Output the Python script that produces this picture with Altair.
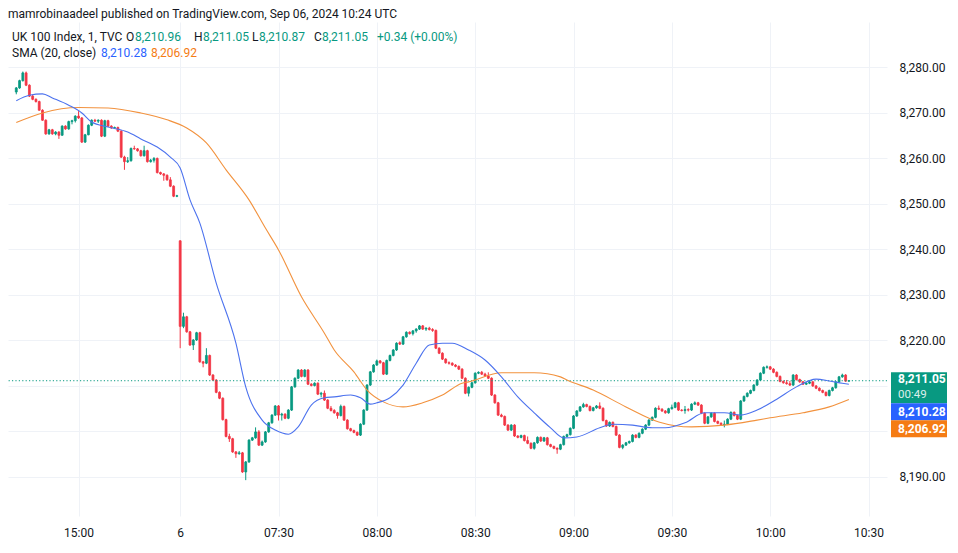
import altair as alt
import pandas as pd

FONT = "Roboto"
TEXT = "#131722"
UP = "#089981"
DOWN = "#F23645"
BLUE_LINE = "#4C72EE"
ORANGE_LINE = "#F2923E"
BLUE_BOX = "#2962FF"
ORANGE_BOX = "#F57C14"
GRID = "#EFF2F7"

HEADER = "mamrobinaadeel published on TradingView.com, Sep 06, 2024 10:24 UTC"
TICK_BARS = [19, 50, 80, 110, 140, 170, 200, 230, 260]
TICK_LABELS = ["15:00", "6", "07:30", "08:00", "08:30", "09:00", "09:30", "10:00", "10:30"]
PRICE_TICKS = [8190, 8200, 8210, 8220, 8230, 8240, 8250, 8260, 8270, 8280]
HIDDEN_PRICE_LABELS = [8200, 8210]  # covered by the last-value tags

# 1-minute candles: Sep 05 14:41-15:30, then Sep 06 07:00-10:24 (UTC)
OPEN = [
    8274.5, 8275.4, 8277.0, 8278.7, 8276.0, 8273.6, 8272.9, 8272.4, 8270.5, 8268.3,
    8265.3, 8266.2, 8265.3, 8265.7, 8265.0, 8267.0, 8266.4, 8268.0, 8268.2, 8269.2,
    8268.8, 8263.5, 8265.1, 8267.2, 8268.3, 8268.1, 8268.3, 8264.8, 8268.2, 8267.0,
    8266.6, 8266.7, 8265.9, 8260.2, 8259.2, 8259.4, 8262.1, 8262.0, 8261.6, 8260.5,
    8261.6, 8259.2, 8259.5, 8259.9, 8256.8, 8256.5, 8256.2, 8255.2, 8253.8, 8251.6,
    8241.8, 8223.0, 8225.1, 8221.8, 8218.9, 8220.0, 8221.6, 8215.2, 8214.9, 8216.6,
    8212.3, 8211.2, 8208.5, 8207.2, 8202.5, 8198.8, 8198.3, 8195.4, 8195.0, 8195.2,
    8191.0, 8193.2, 8198.0, 8198.5, 8199.8, 8196.9, 8197.6, 8199.8, 8201.8, 8203.5,
    8205.5, 8203.5, 8203.7, 8202.8, 8204.6, 8209.7, 8211.6, 8213.4, 8212.0, 8213.4,
    8210.3, 8210.0, 8210.5, 8208.1, 8208.3, 8206.8, 8205.0, 8204.5, 8204.0, 8203.4,
    8205.4, 8202.4, 8200.5, 8200.1, 8199.7, 8199.1, 8201.5, 8204.6, 8210.1, 8213.0,
    8214.5, 8215.4, 8215.0, 8212.5, 8215.5, 8216.6, 8217.8, 8219.4, 8219.1, 8220.7,
    8221.7, 8221.4, 8222.0, 8222.4, 8223.1, 8222.4, 8222.6, 8222.3, 8222.1, 8218.2,
    8217.1, 8215.8, 8215.0, 8214.9, 8214.5, 8214.2, 8213.6, 8211.6, 8208.3, 8209.6,
    8210.6, 8212.7, 8212.9, 8212.5, 8212.1, 8211.6, 8207.9, 8206.2, 8203.5, 8203.2,
    8201.3, 8200.2, 8201.3, 8198.9, 8198.6, 8199.0, 8197.9, 8197.3, 8196.2, 8197.4,
    8198.6, 8197.8, 8198.5, 8197.0, 8196.6, 8196.2, 8196.0, 8197.0, 8198.8, 8199.2,
    8200.6, 8203.3, 8204.4, 8205.3, 8205.8, 8205.4, 8204.5, 8205.1, 8205.5, 8205.0,
    8202.3, 8201.1, 8201.9, 8201.0, 8199.1, 8196.4, 8196.9, 8197.4, 8197.7, 8199.1,
    8198.6, 8199.5, 8200.4, 8201.3, 8202.4, 8203.0, 8205.0, 8204.8, 8204.4, 8204.0,
    8204.9, 8205.2, 8206.2, 8204.6, 8204.5, 8204.7, 8204.6, 8205.9, 8206.2, 8205.7,
    8203.9, 8201.7, 8203.1, 8203.9, 8202.1, 8201.7, 8201.4, 8201.5, 8202.6, 8204.1,
    8203.4, 8202.6, 8206.6, 8207.6, 8208.3, 8208.9, 8210.1, 8211.2, 8212.7, 8214.0,
    8214.1, 8213.6, 8212.9, 8212.0, 8210.9, 8210.6, 8210.4, 8210.1, 8212.3, 8211.3,
    8210.8, 8210.3, 8210.5, 8210.8, 8209.9, 8209.4, 8208.9, 8208.5, 8207.8, 8208.9,
    8209.5, 8210.8, 8211.9, 8212.3, 8210.96,
]
HIGH = [
    8275.6, 8277.2, 8279.0, 8279.0, 8276.2, 8273.9, 8273.1, 8272.6, 8270.7, 8268.5,
    8266.4, 8266.4, 8265.9, 8265.9, 8267.2, 8267.2, 8268.2, 8268.4, 8269.4, 8270.3,
    8269.0, 8265.3, 8267.4, 8268.5, 8268.6, 8268.5, 8268.5, 8268.4, 8268.4, 8267.2,
    8266.9, 8266.9, 8266.1, 8260.5, 8260.2, 8262.3, 8262.7, 8262.2, 8261.8, 8262.7,
    8261.8, 8259.8, 8260.2, 8260.1, 8257.0, 8256.7, 8256.4, 8255.8, 8254.0, 8251.9,
    8241.9, 8226.0, 8225.3, 8222.0, 8220.2, 8221.8, 8221.8, 8215.4, 8218.2, 8216.8,
    8212.5, 8211.4, 8208.7, 8207.4, 8202.7, 8199.4, 8198.5, 8195.6, 8195.6, 8195.4,
    8193.4, 8198.2, 8198.7, 8200.8, 8200.2, 8197.9, 8200.0, 8202.0, 8203.7, 8205.7,
    8205.7, 8204.0, 8203.9, 8204.8, 8209.9, 8211.8, 8213.6, 8213.6, 8213.6, 8213.6,
    8210.5, 8210.7, 8210.7, 8208.6, 8208.9, 8207.0, 8205.5, 8204.8, 8204.2, 8205.8,
    8205.6, 8202.6, 8200.7, 8200.3, 8199.9, 8201.7, 8204.8, 8210.3, 8213.2, 8214.7,
    8215.7, 8215.6, 8215.2, 8215.7, 8216.8, 8218.0, 8219.5, 8219.7, 8220.9, 8221.9,
    8221.9, 8222.2, 8222.6, 8223.3, 8223.3, 8222.8, 8222.9, 8222.6, 8222.3, 8218.4,
    8217.3, 8216.0, 8215.3, 8215.1, 8214.7, 8214.4, 8213.8, 8211.8, 8209.8, 8210.8,
    8212.9, 8213.1, 8213.2, 8212.8, 8212.9, 8211.8, 8208.1, 8206.4, 8203.8, 8203.4,
    8201.5, 8201.5, 8201.5, 8199.1, 8199.2, 8199.2, 8198.8, 8197.5, 8197.6, 8198.8,
    8198.8, 8198.7, 8198.7, 8197.2, 8196.8, 8196.4, 8197.2, 8199.0, 8199.4, 8200.8,
    8203.5, 8204.6, 8205.5, 8206.2, 8206.0, 8205.6, 8205.3, 8205.7, 8206.3, 8205.2,
    8202.5, 8202.1, 8202.1, 8201.2, 8199.3, 8197.1, 8197.6, 8197.9, 8199.3, 8199.3,
    8199.7, 8200.6, 8201.5, 8202.6, 8203.2, 8205.2, 8205.6, 8205.0, 8204.6, 8205.1,
    8205.8, 8206.4, 8206.4, 8204.8, 8205.5, 8205.0, 8206.1, 8206.5, 8206.4, 8205.9,
    8204.1, 8203.3, 8204.1, 8204.1, 8202.3, 8201.9, 8202.3, 8202.8, 8204.3, 8204.3,
    8203.6, 8206.8, 8207.8, 8208.5, 8209.1, 8210.3, 8211.4, 8212.9, 8214.2, 8214.4,
    8214.3, 8213.8, 8213.1, 8212.2, 8211.1, 8211.2, 8211.0, 8212.5, 8212.5, 8211.5,
    8211.0, 8210.7, 8211.0, 8211.0, 8210.1, 8209.6, 8209.1, 8208.7, 8209.1, 8209.7,
    8211.0, 8212.1, 8212.6, 8212.5, 8211.05,
]
LOW = [
    8274.0, 8275.2, 8276.8, 8275.8, 8273.4, 8272.7, 8272.2, 8270.4, 8268.2, 8265.1,
    8265.1, 8265.1, 8265.0, 8264.2, 8264.9, 8266.2, 8266.2, 8267.4, 8267.8, 8268.6,
    8263.3, 8263.3, 8265.0, 8267.0, 8267.9, 8267.7, 8264.6, 8264.6, 8266.8, 8266.4,
    8266.4, 8265.7, 8260.0, 8257.4, 8258.9, 8259.2, 8261.8, 8261.4, 8260.3, 8260.3,
    8259.0, 8259.0, 8259.0, 8256.6, 8256.3, 8255.0, 8255.0, 8253.6, 8251.4, 8251.4,
    8218.2, 8222.6, 8221.6, 8218.7, 8217.8, 8219.8, 8215.0, 8214.0, 8214.7, 8212.1,
    8211.0, 8208.3, 8207.0, 8202.3, 8198.6, 8197.6, 8195.2, 8194.1, 8194.8, 8190.8,
    8189.2, 8193.0, 8197.8, 8198.3, 8196.7, 8196.7, 8197.4, 8199.6, 8201.6, 8203.3,
    8202.3, 8202.3, 8202.6, 8202.6, 8204.4, 8209.5, 8211.4, 8211.8, 8211.8, 8210.1,
    8209.8, 8209.8, 8207.9, 8207.4, 8206.6, 8204.8, 8204.3, 8203.8, 8202.7, 8203.2,
    8202.2, 8200.3, 8199.9, 8199.5, 8198.9, 8198.9, 8201.3, 8204.4, 8209.9, 8212.8,
    8214.3, 8214.8, 8212.3, 8212.3, 8215.3, 8216.4, 8217.6, 8218.9, 8218.9, 8220.5,
    8221.2, 8221.0, 8221.6, 8222.2, 8222.2, 8222.0, 8222.1, 8221.8, 8218.0, 8216.9,
    8215.6, 8214.8, 8214.6, 8214.3, 8214.0, 8213.4, 8211.4, 8208.1, 8207.6, 8209.4,
    8210.4, 8212.5, 8212.3, 8211.9, 8211.4, 8207.7, 8206.0, 8203.3, 8203.0, 8201.1,
    8200.0, 8200.0, 8198.7, 8198.4, 8198.4, 8197.7, 8197.1, 8196.0, 8195.9, 8197.2,
    8197.6, 8197.6, 8196.8, 8196.4, 8196.0, 8195.0, 8195.8, 8196.8, 8198.6, 8199.0,
    8200.4, 8203.1, 8204.2, 8205.1, 8205.2, 8204.3, 8204.3, 8204.9, 8204.8, 8202.1,
    8200.9, 8200.9, 8200.8, 8198.9, 8196.2, 8196.0, 8196.7, 8197.2, 8197.5, 8198.4,
    8198.4, 8199.3, 8200.2, 8201.1, 8202.2, 8202.8, 8204.6, 8204.2, 8203.8, 8203.8,
    8204.7, 8205.0, 8204.4, 8204.3, 8203.8, 8204.3, 8204.4, 8205.7, 8205.5, 8203.7,
    8201.5, 8201.5, 8202.9, 8201.9, 8201.5, 8201.2, 8200.8, 8201.3, 8202.4, 8203.2,
    8202.4, 8202.4, 8206.4, 8207.4, 8208.1, 8208.7, 8209.9, 8211.0, 8212.5, 8213.7,
    8213.4, 8212.7, 8211.8, 8210.7, 8210.4, 8210.2, 8209.9, 8209.9, 8211.1, 8210.6,
    8210.1, 8210.1, 8210.3, 8209.7, 8209.2, 8208.7, 8208.3, 8207.6, 8207.6, 8208.7,
    8209.3, 8210.6, 8211.7, 8210.8, 8210.87,
]
CLOSE = [
    8275.4, 8277.0, 8278.7, 8276.0, 8273.6, 8272.9, 8272.4, 8270.5, 8268.3, 8265.3,
    8266.2, 8265.3, 8265.7, 8265.0, 8267.0, 8266.4, 8268.0, 8268.2, 8269.2, 8268.8,
    8263.5, 8265.1, 8267.2, 8268.3, 8268.1, 8268.3, 8264.8, 8268.2, 8267.0, 8266.6,
    8266.7, 8265.9, 8260.2, 8259.2, 8259.4, 8262.1, 8262.0, 8261.6, 8260.5, 8261.6,
    8259.2, 8259.5, 8259.9, 8256.8, 8256.5, 8256.2, 8255.2, 8253.8, 8251.6, 8251.7,
    8223.0, 8225.1, 8221.8, 8218.9, 8220.0, 8221.6, 8215.2, 8214.9, 8216.6, 8212.3,
    8211.2, 8208.5, 8207.2, 8202.5, 8198.8, 8198.3, 8195.4, 8195.0, 8195.2, 8191.0,
    8193.2, 8198.0, 8198.5, 8199.8, 8196.9, 8197.6, 8199.8, 8201.8, 8203.5, 8205.5,
    8203.5, 8203.7, 8202.8, 8204.6, 8209.7, 8211.6, 8213.4, 8212.0, 8213.4, 8210.3,
    8210.0, 8210.5, 8208.1, 8208.3, 8206.8, 8205.0, 8204.5, 8204.0, 8203.4, 8205.4,
    8202.4, 8200.5, 8200.1, 8199.7, 8199.1, 8201.5, 8204.6, 8210.1, 8213.0, 8214.5,
    8215.4, 8215.0, 8212.5, 8215.5, 8216.6, 8217.8, 8219.3, 8219.1, 8220.7, 8221.7,
    8221.4, 8222.0, 8222.4, 8223.1, 8222.4, 8222.6, 8222.3, 8222.1, 8218.2, 8217.1,
    8215.8, 8215.0, 8214.9, 8214.5, 8214.2, 8213.6, 8211.6, 8208.3, 8209.6, 8210.6,
    8212.7, 8212.9, 8212.5, 8212.1, 8211.6, 8207.9, 8206.2, 8203.5, 8203.2, 8201.3,
    8200.2, 8201.3, 8198.9, 8198.6, 8199.0, 8197.9, 8197.3, 8196.2, 8197.4, 8198.6,
    8197.8, 8198.5, 8197.0, 8196.6, 8196.2, 8196.0, 8197.0, 8198.8, 8199.2, 8200.6,
    8203.3, 8204.4, 8205.3, 8205.8, 8205.4, 8204.5, 8205.1, 8205.5, 8205.0, 8202.3,
    8201.1, 8201.9, 8201.0, 8199.1, 8196.4, 8196.9, 8197.4, 8197.7, 8199.1, 8198.6,
    8199.5, 8200.4, 8201.3, 8202.4, 8203.0, 8205.0, 8204.8, 8204.4, 8204.0, 8204.9,
    8205.2, 8206.2, 8204.6, 8204.5, 8204.7, 8204.6, 8205.9, 8206.2, 8205.7, 8203.9,
    8201.7, 8203.1, 8203.9, 8202.1, 8201.7, 8201.4, 8201.5, 8202.6, 8204.1, 8203.4,
    8202.6, 8206.6, 8207.6, 8208.3, 8208.9, 8210.1, 8211.2, 8212.7, 8214.0, 8214.1,
    8213.6, 8212.9, 8212.0, 8210.9, 8210.6, 8210.4, 8210.1, 8212.3, 8211.3, 8210.8,
    8210.3, 8210.5, 8210.8, 8209.9, 8209.4, 8208.9, 8208.5, 8207.8, 8208.9, 8209.5,
    8210.8, 8211.9, 8212.3, 8210.96, 8211.05,
]

# SMA (blue) and its smoothing line (orange), read at selected bars
FAST_BARS = [0, 4, 8, 11, 16, 20, 23, 28, 34, 38, 43, 47, 50, 53, 56, 61, 67, 70, 75, 79,
             83, 86, 90, 94, 97, 102, 105, 108, 110, 114, 118, 122, 126, 130, 133, 138, 143, 148, 153, 158,
             163, 167, 171, 178, 182, 188, 194, 198, 204, 210, 216, 221, 226, 232, 238, 244, 248, 252, 254]
FAST_VALS = [8272.6, 8273.8, 8274.1, 8273.2, 8271.6, 8269.9, 8267.9, 8266.8, 8265.7, 8264.2,
             8262.4, 8260.2, 8257.8, 8250.8, 8245.7, 8232.5, 8219.3, 8209.7, 8202.4, 8200.2,
             8199.3, 8200.9, 8205.7, 8207.3, 8207.5, 8207.9, 8207.3, 8205.9, 8206.2, 8207.3,
             8210.1, 8214.9, 8218.9, 8219.3, 8219.3, 8217.8, 8215.6, 8211.9, 8207.5, 8204.0,
             8200.7, 8198.5, 8198.7, 8200.7, 8201.5, 8201.3, 8200.7, 8200.7, 8201.8, 8204.0,
             8204.0, 8203.5, 8204.6, 8207.0, 8209.7, 8211.4, 8211.0, 8210.5, 8210.28]
SLOW_BARS = [0, 8, 19, 28, 38, 46, 52, 58, 64, 71, 76, 80, 87, 94, 97, 103, 107, 112, 118, 124,
             130, 136, 138, 148, 158, 166, 168, 176, 186, 196, 206, 216, 226, 230, 240, 248, 254]
SLOW_VALS = [8267.8, 8269.9, 8271.1, 8271.0, 8269.9, 8268.4, 8266.6, 8263.3, 8257.4, 8250.8,
             8244.6, 8239.8, 8229.5, 8221.5, 8217.8, 8213.0, 8209.0, 8206.4, 8205.3, 8206.2,
             8207.9, 8210.5, 8210.8, 8212.8, 8212.8, 8211.9, 8211.2, 8209.0, 8205.3, 8202.0,
             8200.9, 8201.3, 8202.4, 8202.9, 8204.0, 8205.3, 8206.92]

LAST = 8211.05
FAST_LAST = 8210.28
SLOW_LAST = 8206.92
COUNTDOWN = "00:49"

W, H = 879, 494
X_SCALE = alt.Scale(domain=[-1, 264.1], nice=False, zero=False)
Y_SCALE = alt.Scale(domain=[8181.32, 8289.89], nice=False, zero=False)

x_label_expr = " : ".join(f"datum.value == {b} ? '{t}'" for b, t in zip(TICK_BARS, TICK_LABELS)) + " : ''"
y_label_expr = " || ".join(f"datum.value == {v}" for v in HIDDEN_PRICE_LABELS) + " ? '' : datum.label"

candles = pd.DataFrame({"bar": list(range(len(CLOSE))), "open": OPEN, "high": HIGH,
                        "low": LOW, "close": CLOSE})
fast = pd.DataFrame({"bar": FAST_BARS, "v": FAST_VALS})
slow = pd.DataFrame({"bar": SLOW_BARS, "v": SLOW_VALS})

updown = alt.when(alt.datum.close >= alt.datum.open).then(alt.value(UP)).otherwise(alt.value(DOWN))

X_AXIS = alt.Axis(values=TICK_BARS, labelExpr=x_label_expr, grid=True, gridColor=GRID, domain=False,
                  ticks=False, labelPadding=11, labelFontSize=12, labelFont=FONT, labelColor=TEXT,
                  title=None, labelFlush=False)
Y_AXIS = alt.Axis(orient="right", values=PRICE_TICKS, format=",.2f", labelExpr=y_label_expr,
                  grid=True, gridColor=GRID, domain=False, ticks=False, labelPadding=12,
                  labelFontSize=12, labelFont=FONT, labelColor=TEXT, title=None)


def X(field):
    return alt.X(field, scale=X_SCALE, axis=X_AXIS, title=None)


def Y(field):
    return alt.Y(field, scale=Y_SCALE, axis=Y_AXIS, title=None)


base = alt.Chart(candles)
wicks = base.mark_rule(strokeWidth=1).encode(
    x=X("bar:Q"), y=Y("low:Q"), y2="high:Q", color=updown,
)
bodies = base.mark_bar(size=1.9, strokeWidth=0.8).encode(
    x=X("bar:Q"), y=Y("open:Q"), y2="close:Q", fill=updown, stroke=updown,
)

last_line = alt.Chart(pd.DataFrame({"v": [LAST]})).mark_rule(
    color=UP, strokeWidth=1, strokeDash=[1.2, 2.2]
).encode(y=Y("v:Q"))

fast_line = alt.Chart(fast).mark_line(color=BLUE_LINE, strokeWidth=1.1, interpolate="monotone").encode(
    x=X("bar:Q"), y=Y("v:Q"))
slow_line = alt.Chart(slow).mark_line(color=ORANGE_LINE, strokeWidth=1.1, interpolate="monotone").encode(
    x=X("bar:Q"), y=Y("v:Q"))


def anchored_box(color, off1, off2):
    return alt.Chart(pd.DataFrame({"v": [LAST]})).mark_rect(
        color=color, yOffset=off1, y2Offset=off2
    ).encode(y=Y("v:Q"), y2="v:Q", x=alt.value(W + 4), x2=alt.value(W + 60))


def anchored_text(text, dy, weight="bold", opacity=1.0, size=12):
    return alt.Chart(pd.DataFrame({"v": [LAST], "t": [text]})).mark_text(
        align="left", baseline="middle", dy=dy, font=FONT, fontSize=size, fontWeight=weight,
        color="white", opacity=opacity
    ).encode(y=Y("v:Q"), x=alt.value(W + 11), text="t:N")


# x / y of these labels are page pixels minus the plot origin (8, 22)
def label(text, x, y, color=TEXT, size=12, weight="normal"):
    return alt.Chart(pd.DataFrame({"t": [text]})).mark_text(
        align="left", baseline="middle", font=FONT, fontSize=size, fontWeight=weight, color=color
    ).encode(x=alt.value(x), y=alt.value(y), text="t:N")


price_boxes = [
    anchored_box(UP, -8.5, 22.5),
    anchored_box(BLUE_BOX, 22.5, 39.5),
    anchored_box(ORANGE_BOX, 39.5, 56.5),
    anchored_text(f"{LAST:,.2f}", -1.5),
    anchored_text(COUNTDOWN, 14.5, weight="normal", opacity=0.85, size=11.5),
    anchored_text(f"{FAST_LAST:,.2f}", 31),
    anchored_text(f"{SLOW_LAST:,.2f}", 48),
]

o, h, l, c = OPEN[-1], HIGH[-1], LOW[-1], CLOSE[-1]
texts = [
    label(HEADER, 0, -8),
    label("UK 100 Index, 1, TVC", 4, 15),
    label("O", 118, 15), label(f"{o:,.2f}", 127, 15, UP),
    label("H", 186, 15), label(f"{h:,.2f}", 195, 15, UP),
    label("L", 244, 15), label(f"{l:,.2f}", 251, 15, UP),
    label("C", 306, 15), label(f"{c:,.2f}", 314, 15, UP),
    label("+0.34 (+0.00%)", 369, 15, UP),
    label("SMA (20, close)", 4, 31),
    label(f"{FAST_LAST:,.2f}", 93, 31, BLUE_BOX),
    label(f"{SLOW_LAST:,.2f}", 143, 31, ORANGE_BOX),
]

chart = alt.layer(
    wicks, bodies, last_line, slow_line, fast_line, *price_boxes, *texts
).properties(
    width=W, height=H,
    padding={"left": 0, "top": 14, "right": 60, "bottom": 23},
    autosize=alt.AutoSizeParams(type="none"),
).configure_view(stroke=None)

chart.save("out.html", embed_options={"renderer": "svg", "actions": False})
